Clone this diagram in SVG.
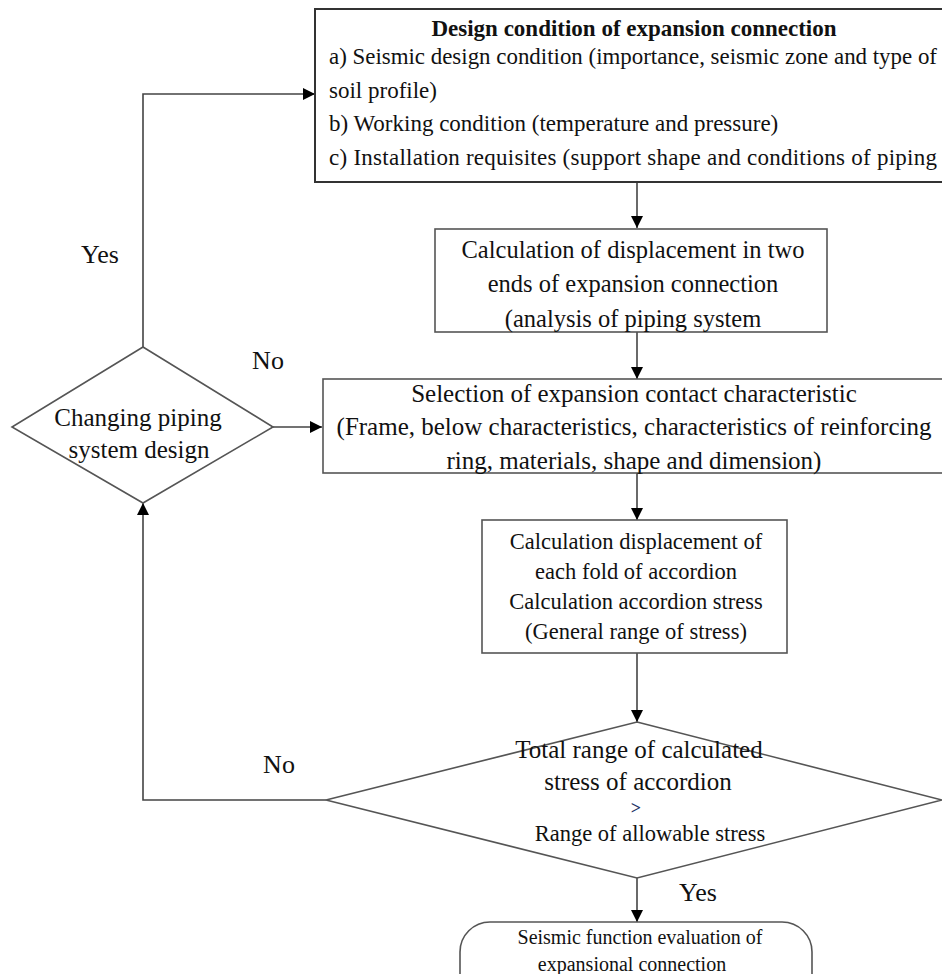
<svg xmlns="http://www.w3.org/2000/svg" width="942" height="974" viewBox="0 0 942 974">
<defs>
<marker id="ah" viewBox="0 0 10 10" refX="10" refY="5" markerWidth="12" markerHeight="12" markerUnits="userSpaceOnUse" orient="auto">
<path d="M0,0 L10,5 L0,10 z" fill="#000"/>
</marker>
<style>
text{font-family:"Liberation Serif","Times New Roman",serif;fill:#111}
.box{fill:#fff;stroke:#555;stroke-width:1.6}
.dia{fill:#fff;stroke:#555;stroke-width:1.6}
.c{text-anchor:middle}
.conn{fill:none;stroke:#444;stroke-width:1.6}
.lbl{font-size:26px}
</style>
</defs>
<rect width="942" height="974" fill="#fff"/>

<g id="connectors">
<line class="conn" x1="637" y1="182" x2="637" y2="228" marker-end="url(#ah)"/>
<line class="conn" x1="637" y1="332" x2="637" y2="379" marker-end="url(#ah)"/>
<line class="conn" x1="637" y1="473" x2="637" y2="520" marker-end="url(#ah)"/>
<line class="conn" x1="637" y1="653" x2="637" y2="722" marker-end="url(#ah)"/>
<line class="conn" x1="637" y1="878" x2="637" y2="922" marker-end="url(#ah)"/>
<polyline class="conn" points="326,800 143,800 143,503" marker-end="url(#ah)"/>
<line class="conn" x1="273" y1="427" x2="322" y2="427" marker-end="url(#ah)"/>
<polyline class="conn" points="143,347 143,94 315,94" marker-end="url(#ah)"/>
<text class="lbl c" x="100" y="263">Yes</text>
<text class="lbl c" x="268" y="369">No</text>
<text class="lbl c" x="279" y="773">No</text>
<text class="lbl c" x="698" y="901">Yes</text>
</g>

<g id="design-condition">
<rect class="box" x="315" y="9" width="640" height="173" style="stroke:#333;stroke-width:2"/>
<text class="c" x="634" y="36" style="font-size:23px;font-weight:bold">Design condition of expansion connection</text>
<text x="329" y="64" style="font-size:23px" textLength="608" lengthAdjust="spacingAndGlyphs">a) Seismic design condition (importance, seismic zone and type of</text>
<text x="329" y="98" style="font-size:23px">soil profile)</text>
<text x="329" y="131" style="font-size:23px">b) Working condition (temperature and pressure)</text>
<text x="329" y="165" style="font-size:23px" textLength="608" lengthAdjust="spacing">c) Installation requisites (support shape and conditions of piping</text>
</g>

<g id="displacement-calc">
<rect class="box" x="435" y="229" width="392" height="103"/>
<text class="c" x="633" y="258" style="font-size:24.5px">Calculation of displacement in two</text>
<text class="c" x="633" y="292" style="font-size:24.5px">ends of expansion connection</text>
<text class="c" x="633" y="327" style="font-size:24.5px">(analysis of piping system</text>
</g>

<g id="selection">
<rect class="box" x="323" y="379" width="632" height="94"/>
<text class="c" x="634" y="402" style="font-size:25px">Selection of expansion contact characteristic</text>
<text class="c" x="634" y="435" style="font-size:25px">(Frame, below characteristics, characteristics of reinforcing</text>
<text class="c" x="634" y="469" style="font-size:25px">ring, materials, shape and dimension)</text>
</g>

<g id="accordion-calc">
<rect class="box" x="482" y="520" width="305" height="133"/>
<text class="c" x="636" y="549" style="font-size:22.5px">Calculation displacement of</text>
<text class="c" x="636" y="579" style="font-size:22.5px">each fold of accordion</text>
<text class="c" x="636" y="609" style="font-size:22.5px">Calculation accordion stress</text>
<text class="c" x="636" y="639" style="font-size:22.5px">(General range of stress)</text>
</g>

<g id="changing-design">
<polygon class="dia" points="143,347 273,427 143,503 12,427"/>
<text class="c" x="138" y="426" style="font-size:25px">Changing piping</text>
<text class="c" x="139" y="458" style="font-size:25px">system design</text>
</g>

<g id="stress-check">
<polygon class="dia" points="637,722 942,800 637,878 326,800"/>
<text class="c" x="639" y="758" style="font-size:25px">Total range of calculated</text>
<text class="c" x="638" y="790" style="font-size:25px">stress of accordion</text>
<text class="c" x="636" y="814" style="font-size:18px;font-weight:bold;fill:#1e3264">&gt;</text>
<text class="c" x="650" y="841" style="font-size:22.5px">Range of allowable stress</text>
</g>

<g id="evaluation">
<rect class="box" x="460" y="922" width="352" height="90" rx="30" ry="30"/>
<text class="c" x="640" y="944" style="font-size:20px">Seismic function evaluation of</text>
<text class="c" x="632" y="971" style="font-size:20px">expansional connection</text>
</g>
</svg>
